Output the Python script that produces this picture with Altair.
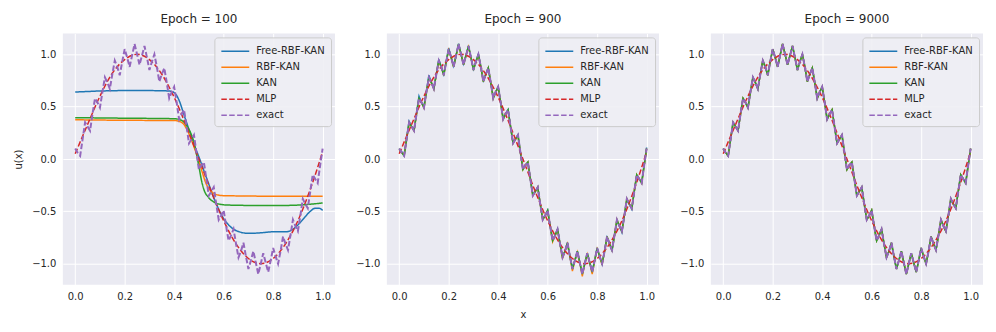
import altair as alt
import pandas as pd

SERIES = ["Free-RBF-KAN", "RBF-KAN", "KAN", "MLP", "exact"]
COLORS = ["#1f77b4", "#ff7f0e", "#2ca02c", "#d62728", "#9467bd"]
DASHES = [[1, 0], [1, 0], [1, 0], [5.5, 2.4], [5.5, 2.4]]
TITLES = ["Epoch = 100", "Epoch = 900", "Epoch = 9000"]

X_FINE = [0.00, 0.01, 0.02, 0.03, 0.04, 0.05, 0.06, 0.07, 0.08, 0.09,
          0.10, 0.11, 0.12, 0.13, 0.14, 0.15, 0.16, 0.17, 0.18, 0.19,
          0.20, 0.21, 0.22, 0.23, 0.24, 0.25, 0.26, 0.27, 0.28, 0.29,
          0.30, 0.31, 0.32, 0.33, 0.34, 0.35, 0.36, 0.37, 0.38, 0.39,
          0.40, 0.41, 0.42, 0.43, 0.44, 0.45, 0.46, 0.47, 0.48, 0.49,
          0.50, 0.51, 0.52, 0.53, 0.54, 0.55, 0.56, 0.57, 0.58, 0.59,
          0.60, 0.61, 0.62, 0.63, 0.64, 0.65, 0.66, 0.67, 0.68, 0.69,
          0.70, 0.71, 0.72, 0.73, 0.74, 0.75, 0.76, 0.77, 0.78, 0.79,
          0.80, 0.81, 0.82, 0.83, 0.84, 0.85, 0.86, 0.87, 0.88, 0.89,
          0.90, 0.91, 0.92, 0.93, 0.94, 0.95, 0.96, 0.97, 0.98, 0.99,
          1.00]

EXACT = [0.10, 0.06, 0.03, 0.19, 0.35, 0.31, 0.27, 0.43, 0.58, 0.54,
         0.49, 0.64, 0.78, 0.73, 0.67, 0.81, 0.94, 0.88, 0.80, 0.93,
         1.05, 0.97, 0.88, 0.99, 1.10, 1.00, 0.90, 0.99, 1.08, 0.97,
         0.85, 0.93, 1.00, 0.88, 0.74, 0.81, 0.87, 0.73, 0.58, 0.64,
         0.69, 0.54, 0.38, 0.43, 0.47, 0.31, 0.15, 0.19, 0.23, 0.06,
         -0.10, -0.06, -0.03, -0.19, -0.35, -0.31, -0.27, -0.43, -0.58, -0.54,
         -0.49, -0.64, -0.78, -0.73, -0.67, -0.81, -0.94, -0.88, -0.80, -0.93,
         -1.05, -0.97, -0.88, -0.99, -1.10, -1.00, -0.90, -0.99, -1.08, -0.97,
         -0.85, -0.93, -1.00, -0.88, -0.74, -0.81, -0.87, -0.73, -0.58, -0.64,
         -0.69, -0.54, -0.38, -0.43, -0.47, -0.31, -0.15, -0.19, -0.23, -0.06,
         0.10]

# Epoch 900 fits (close to exact, small visible deviations)
FREE_900 = [0.08, 0.07, 0.04, 0.20, 0.36, 0.31, 0.28, 0.44, 0.60, 0.54,
            0.50, 0.65, 0.80, 0.73, 0.68, 0.81, 0.95, 0.88, 0.81, 0.93,
            1.06, 0.97, 0.89, 0.99, 1.10, 1.00, 0.91, 0.99, 1.08, 0.97,
            0.86, 0.93, 1.00, 0.88, 0.75, 0.81, 0.87, 0.73, 0.59, 0.64,
            0.69, 0.54, 0.39, 0.43, 0.47, 0.31, 0.16, 0.19, 0.23, 0.06,
            -0.09, -0.06, -0.03, -0.19, -0.34, -0.31, -0.27, -0.43, -0.57, -0.54,
            -0.49, -0.64, -0.77, -0.73, -0.67, -0.81, -0.93, -0.88, -0.80, -0.93,
            -1.04, -0.97, -0.88, -0.99, -1.09, -1.00, -0.90, -0.99, -1.07, -0.97,
            -0.85, -0.93, -1.00, -0.88, -0.75, -0.81, -0.88, -0.73, -0.59, -0.64,
            -0.70, -0.54, -0.39, -0.43, -0.48, -0.31, -0.16, -0.19, -0.22, -0.06,
            0.11]
RBF_900 = [0.09, 0.06, 0.04, 0.19, 0.34, 0.31, 0.27, 0.43, 0.57, 0.54,
           0.49, 0.64, 0.77, 0.73, 0.67, 0.81, 0.93, 0.88, 0.80, 0.93,
           1.04, 0.97, 0.88, 0.99, 1.09, 1.00, 0.90, 0.99, 1.07, 0.97,
           0.85, 0.93, 0.99, 0.88, 0.74, 0.81, 0.87, 0.73, 0.58, 0.64,
           0.68, 0.54, 0.38, 0.43, 0.46, 0.31, 0.15, 0.19, 0.22, 0.06,
           -0.10, -0.06, -0.03, -0.19, -0.35, -0.31, -0.27, -0.43, -0.58, -0.54,
           -0.50, -0.64, -0.79, -0.73, -0.68, -0.81, -0.95, -0.88, -0.81, -0.93,
           -1.07, -0.97, -0.89, -0.99, -1.12, -1.00, -0.91, -0.99, -1.10, -0.97,
           -0.86, -0.93, -1.01, -0.88, -0.74, -0.81, -0.87, -0.73, -0.58, -0.64,
           -0.69, -0.54, -0.38, -0.43, -0.47, -0.31, -0.15, -0.19, -0.23, -0.06,
           0.10]

MLP_X = [0.00, 0.05, 0.10, 0.15, 0.20, 0.25, 0.30, 0.35, 0.40, 0.45, 0.50,
         0.55, 0.60, 0.65, 0.70, 0.75, 0.80, 0.85, 0.90, 0.95, 1.00]
MLP_Y = [0.05, 0.33, 0.60, 0.82, 0.95, 1.00, 0.95, 0.81, 0.59, 0.31, 0.00,
         -0.31, -0.59, -0.81, -0.95, -1.00, -0.95, -0.81, -0.59, -0.29, 0.07]

# Epoch 100 model outputs
FREE_X = [0.00, 0.05, 0.10, 0.15, 0.20, 0.25, 0.30, 0.35, 0.38, 0.40, 0.42, 0.44,
          0.46, 0.48, 0.50, 0.52, 0.54, 0.56, 0.58, 0.60, 0.62, 0.64, 0.67, 0.70,
          0.75, 0.80, 0.85, 0.87, 0.90, 0.93, 0.95, 0.97, 0.985, 1.00]
FREE_Y = [0.64, 0.645, 0.65, 0.652, 0.655, 0.655, 0.654, 0.652, 0.65, 0.635, 0.56, 0.42,
          0.28, 0.14, 0.02, -0.11, -0.24, -0.37, -0.48, -0.57, -0.63, -0.67, -0.70, -0.71,
          -0.705, -0.695, -0.695, -0.685, -0.63, -0.55, -0.50, -0.47, -0.47, -0.49]
RBF_X = [0.00, 0.20, 0.40, 0.43, 0.45, 0.47, 0.49, 0.51, 0.53, 0.55, 0.57, 0.60, 0.80, 1.00]
RBF_Y = [0.375, 0.37, 0.368, 0.35, 0.29, 0.18, 0.05, -0.10, -0.24, -0.31, -0.34, -0.35, -0.355, -0.355]
KAN_X = [0.00, 0.20, 0.40, 0.43, 0.45, 0.47, 0.48, 0.49, 0.50, 0.51, 0.52, 0.54, 0.56,
         0.58, 0.62, 0.80, 0.90, 1.00]
KAN_Y = [0.395, 0.39, 0.385, 0.37, 0.32, 0.23, 0.16, 0.05, -0.07, -0.20, -0.29, -0.37, -0.41,
         -0.43, -0.44, -0.445, -0.44, -0.42]


def frame(xs, ys, name):
    return pd.DataFrame({"x": xs, "y": ys, "series": name})


panels_data = [
    {"Free-RBF-KAN": frame(FREE_X, FREE_Y, "Free-RBF-KAN"),
     "RBF-KAN": frame(RBF_X, RBF_Y, "RBF-KAN"),
     "KAN": frame(KAN_X, KAN_Y, "KAN"),
     "MLP": frame(MLP_X, MLP_Y, "MLP"),
     "exact": frame(X_FINE, EXACT, "exact")},
    {"Free-RBF-KAN": frame(X_FINE, FREE_900, "Free-RBF-KAN"),
     "RBF-KAN": frame(X_FINE, RBF_900, "RBF-KAN"),
     "KAN": frame(X_FINE, EXACT, "KAN"),
     "MLP": frame(MLP_X, MLP_Y, "MLP"),
     "exact": frame(X_FINE, EXACT, "exact")},
    {"Free-RBF-KAN": frame(X_FINE, EXACT, "Free-RBF-KAN"),
     "RBF-KAN": frame(X_FINE, EXACT, "RBF-KAN"),
     "KAN": frame(X_FINE, EXACT, "KAN"),
     "MLP": frame(MLP_X, MLP_Y, "MLP"),
     "exact": frame(X_FINE, EXACT, "exact")},
]

FONT = "DejaVu Sans"
TXT = "#262626"


def make_panel(i):
    d = panels_data[i]
    legend = alt.Legend(
        title=None, orient="top-right", offset=4, symbolType="M-1,0H3",
        symbolStrokeWidth=1.5, symbolSize=196, labelFontSize=10, labelFont=FONT,
        labelColor=TXT, fillColor="rgba(238,238,244,0.9)", strokeColor="#cccccc",
        cornerRadius=3, padding=6, rowPadding=3, labelOffset=20, labelLimit=200,
    )
    xaxis = alt.Axis(values=[0, 0.2, 0.4, 0.6, 0.8, 1.0], format=".1f",
                     title="x" if i == 1 else None)
    yaxis = alt.Axis(values=[-1, -0.5, 0, 0.5, 1],
                     labelExpr="replace(format(datum.value, '.1f'), '-', '\u2212')",
                     title="u(x)" if i == 0 else None)
    layers = []
    for s in SERIES:
        smooth = not (s == "exact" or (i > 0 and s != "MLP"))
        sw = 2 if s == "exact" else 1.5
        layers.append(
            alt.Chart(d[s]).mark_line(
                strokeWidth=sw, interpolate="monotone" if smooth else "linear"
            ).encode(
                x=alt.X("x:Q", scale=alt.Scale(domain=[-0.05, 1.05], nice=False, zero=False), axis=xaxis),
                y=alt.Y("y:Q", scale=alt.Scale(domain=[-1.2, 1.2], nice=False, zero=False), axis=yaxis),
                color=alt.Color("series:N", scale=alt.Scale(domain=SERIES, range=COLORS), legend=legend),
                strokeDash=alt.StrokeDash("series:N", scale=alt.Scale(domain=SERIES, range=DASHES), legend=legend),
            )
        )
    return alt.layer(*layers).properties(
        width=273, height=252,
        title=alt.TitleParams(TITLES[i], fontSize=12, fontWeight="normal", font=FONT,
                              color=TXT, offset=7),
    )


chart = alt.hconcat(*[make_panel(i) for i in range(3)], spacing=20).resolve_legend(
    color="independent", strokeDash="independent"
).resolve_scale(color="independent", strokeDash="independent").configure(
    background="white", padding=5
).configure_view(
    fill="#EAEAF2", stroke=None
).configure_axis(
    domain=False, ticks=False, grid=True, gridColor="white", gridWidth=1,
    labelFont=FONT, labelFontSize=10, labelColor=TXT, labelPadding=7,
    titleFont=FONT, titleFontSize=10, titleColor=TXT, titleFontWeight="normal",
    titlePadding=8,
)

chart.save("out.html", embed_options={"renderer": "svg", "actions": False})
